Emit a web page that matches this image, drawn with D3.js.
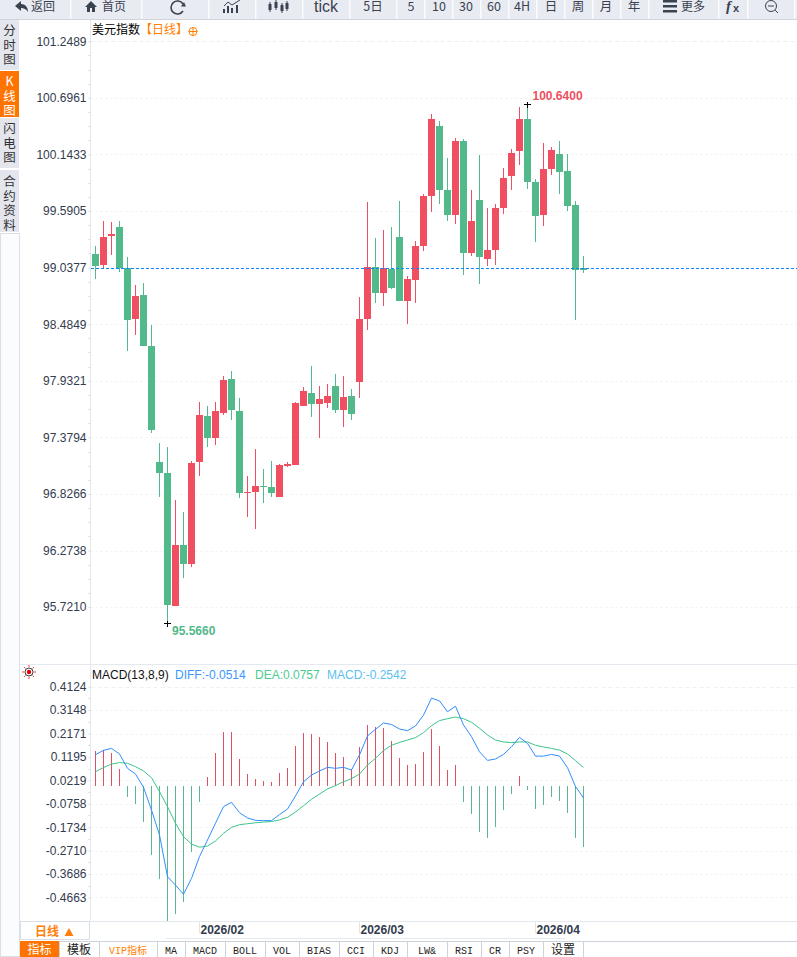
<!DOCTYPE html>
<html><head><meta charset="utf-8">
<script src="https://cdn.jsdelivr.net/npm/d3@7/dist/d3.min.js"></script>
<style>
html,body{margin:0;padding:0;background:#fff;overflow:hidden}
svg{display:block}
text{font-family:"Liberation Sans",Arial,"Noto Sans CJK SC",sans-serif}
.cjk{font-family:"Noto Sans CJK SC",sans-serif}
</style></head><body>
<svg id="c" width="797" height="957"></svg>
<script>
// Daily candles
const open  = [99.170,99.063,99.346,99.434,99.031,98.535,98.770,98.272,97.138,97.031,95.731,96.327,96.142,97.138,97.588,97.373,97.617,97.949,97.637,96.835,96.845,96.904,96.894,96.796,97.099,97.109,97.685,97.812,97.705,97.715,97.881,97.646,97.783,97.920,98.535,99.043,98.789,99.024,99.337,98.711,98.916,99.249,99.737,100.421,99.796,99.551,100.274,99.180,99.698,99.122,99.209,99.620,99.932,100.177,100.489,99.874,99.551,100.001,100.147,99.981,99.649,99.034];
const close = [99.053,99.337,99.366,99.031,98.526,98.760,98.272,97.451,97.031,95.741,96.327,96.142,97.128,97.597,97.373,97.637,97.939,97.646,96.835,96.845,96.904,96.894,96.835,97.109,97.119,97.715,97.832,97.705,97.754,97.783,97.646,97.773,97.607,98.535,99.043,98.789,99.034,98.838,98.711,98.926,99.249,99.737,100.489,99.796,99.551,100.274,99.180,99.493,99.141,99.209,99.620,99.913,100.157,100.489,99.874,99.542,100.001,100.186,99.972,99.639,99.014,99.014];
const high  = [99.249,99.493,99.483,99.493,99.141,98.868,98.887,98.477,97.324,97.285,96.767,96.650,97.148,97.724,97.685,97.724,97.978,98.027,97.764,97.001,97.265,97.070,97.148,97.119,97.138,97.724,97.871,98.076,97.881,97.900,97.998,97.978,97.851,98.750,99.678,99.327,99.405,99.434,99.688,98.955,99.297,99.757,100.538,100.470,100.108,100.304,100.294,99.796,100.138,99.620,99.659,100.011,100.196,100.607,100.640,99.903,100.255,100.216,100.274,100.147,99.688,99.151];
const low   = [98.926,99.034,99.161,98.995,98.223,98.379,98.272,97.422,96.796,95.566,95.731,96.005,96.112,97.001,97.285,97.304,97.597,97.549,96.787,96.601,96.484,96.738,96.796,96.796,97.089,97.109,97.685,97.578,97.373,97.666,97.617,97.480,97.549,97.764,98.428,98.692,98.662,98.828,98.711,98.487,98.692,99.200,99.581,99.659,99.493,99.464,98.965,99.151,98.877,99.053,99.063,99.561,99.796,100.040,99.805,99.288,99.444,99.942,99.757,99.591,98.526,98.985];
const lastPrice = 99.03;
const highLabel = "100.6400", lowLabel = "95.5660";
const priceTicks = [101.2489,100.6961,100.1433,99.5905,99.0377,98.4849,97.9321,97.3794,96.8266,96.2738,95.7210];
// MACD(13,8,9)
const macdBars = [0.144,0.147,0.136,0.069,-0.048,-0.077,-0.152,-0.289,-0.390,-0.565,-0.535,-0.485,-0.277,-0.068,0.036,0.136,0.224,0.224,0.111,0.048,0.028,0.019,0.015,0.053,0.073,0.165,0.219,0.215,0.203,0.182,0.136,0.119,0.069,0.161,0.253,0.244,0.240,0.186,0.115,0.086,0.090,0.140,0.236,0.165,0.065,0.086,-0.068,-0.118,-0.193,-0.219,-0.173,-0.102,-0.035,0.040,-0.018,-0.098,-0.081,-0.048,-0.064,-0.114,-0.219,-0.2542];
const diff = [0.129,0.147,0.155,0.132,0.072,0.048,-0.007,-0.102,-0.206,-0.380,-0.415,-0.453,-0.387,-0.296,-0.227,-0.157,-0.088,-0.070,-0.113,-0.135,-0.145,-0.146,-0.146,-0.121,-0.098,-0.043,0.016,0.044,0.061,0.076,0.072,0.076,0.065,0.128,0.207,0.235,0.261,0.255,0.236,0.229,0.249,0.294,0.365,0.353,0.308,0.331,0.253,0.204,0.141,0.105,0.111,0.130,0.162,0.201,0.176,0.123,0.123,0.130,0.123,0.075,-0.004,-0.0514];
const dea = [0.058,0.075,0.090,0.096,0.093,0.079,0.061,0.033,-0.025,-0.088,-0.157,-0.213,-0.244,-0.257,-0.252,-0.231,-0.199,-0.174,-0.163,-0.159,-0.155,-0.152,-0.150,-0.143,-0.132,-0.110,-0.084,-0.057,-0.035,-0.014,0.000,0.016,0.029,0.048,0.086,0.114,0.146,0.168,0.180,0.190,0.200,0.221,0.250,0.271,0.279,0.286,0.279,0.264,0.239,0.211,0.190,0.182,0.179,0.182,0.182,0.168,0.161,0.155,0.148,0.132,0.104,0.0757];
const macdTicks = [0.4124,0.3148,0.2171,0.1195,0.0219,-0.0758,-0.1734,-0.2710,-0.3686,-0.4663];
const monthLabels = ["2026/02","2026/03","2026/04"];
const monthIndex = [13,33,55];
// Interface labels
const toolLabels = ["tick","5日","5","10","30","60","4H","日","周","月","年"];
const sideTabs = ["分时图","K线图","闪电图","合约资料"];
const bottomTabs = ["指标","模板","VIP指标","MA","MACD","BOLL","VOL","BIAS","CCI","KDJ","LW&","RSI","CR","PSY","设置"];

const RED="#ef4f60", GREEN="#52b98a", BLUE="#0a84ff", TXT="#333b4e";
const svg=d3.select("#c");
const x=d3.scaleLinear().domain([0,open.length-1]).range([95.5,583.5]);
const y=d3.scaleLinear().domain([101.2489,95.7210]).range([41.3,607.1]);
const ym=d3.scaleLinear().domain([0.4124,-0.4663]).range([686.7,897.4]);
const PL=90.5, PR=797;

// side column
svg.append("rect").attr("x",0.5).attr("y",233.5).attr("width",19).attr("height",723).attr("fill","#fbfcfd").attr("stroke","#dbe0e8");
const sideY=[[20,71],[71,117],[118,169],[170,233]];
const sideG=svg.append("g");
sideTabs.forEach((t,i)=>{
  const on=i===1;
  sideG.append("rect").attr("x",0).attr("y",sideY[i][0]).attr("width",19).attr("height",sideY[i][1]-sideY[i][0]-(on?0:1)).attr("fill",on?"#ff7300":"#e4e6ee");
  Array.from(t).forEach((ch,j)=>{
    sideG.append("text").attr("class","cjk").attr("x",9.5).attr("y",sideY[i][0]+18+j*14.6-(t.length>3?2:3)).attr("text-anchor","middle")
      .attr("font-size",12.5).attr("fill",on?"#fff":"#333").text(ch);
  });
});

// frame lines
const frame=svg.append("g").attr("stroke","#e4e9ef").attr("stroke-width",1);
frame.append("line").attr("x1",PL).attr("x2",PL).attr("y1",20).attr("y2",921);
frame.append("line").attr("x1",19.5).attr("x2",19.5).attr("y1",233).attr("y2",957).attr("stroke","#dbe0e8");
frame.append("line").attr("x1",20).attr("x2",PR).attr("y1",664.5).attr("y2",664.5);
frame.append("line").attr("x1",20).attr("x2",PR).attr("y1",921.5).attr("y2",921.5);
frame.append("line").attr("x1",166).attr("x2",565).attr("y1",938.5).attr("y2",938.5);

// price grid + axis
const gridG=svg.append("g");
gridG.selectAll("line").data(priceTicks).join("line").attr("x1",PL).attr("x2",PR)
  .attr("y1",d=>Math.round(y(d))+.5).attr("y2",d=>Math.round(y(d))+.5)
  .attr("stroke",(d,i)=>i===0?"#eeeeee":"#f0f0f0").attr("stroke-dasharray",(d,i)=>i===0?"4,3":"2,3");
gridG.selectAll("line.m").data(macdTicks).join("line").attr("class","m").attr("x1",PL).attr("x2",PR)
  .attr("y1",d=>Math.round(ym(d))+.5).attr("y2",d=>Math.round(ym(d))+.5)
  .attr("stroke","#f0f0f0").attr("stroke-dasharray",(d,i)=>i===0?"4,3":"2,3");

function styleAxis(g){
  g.select(".domain").remove();
  g.selectAll(".tick line").attr("stroke","#d5dbe3");
  g.selectAll("text").attr("fill",TXT).attr("font-size",12).attr("font-family",'"Liberation Sans",Arial,sans-serif');
}
const priceFmt=new Map(priceTicks.map(v=>[v,v.toFixed(4)]));
svg.append("g").attr("transform",`translate(${PL},0)`)
  .call(d3.axisLeft(y).tickValues(priceTicks).tickSize(2).tickPadding(2).tickFormat(d=>priceFmt.get(d)))
  .call(styleAxis);
svg.append("g").attr("transform",`translate(${PL},0)`)
  .call(d3.axisLeft(ym).tickValues(macdTicks).tickSize(2).tickPadding(2).tickFormat(d=>d.toFixed(4)))
  .call(styleAxis);
// minor ticks
const minorP=d3.range(0,priceTicks.length-1).flatMap(i=>[1,2,3].map(k=>priceTicks[i]+(priceTicks[i+1]-priceTicks[i])*k/4));
svg.append("g").selectAll("line").data(minorP).join("line").attr("x1",PL-2).attr("x2",PL)
  .attr("y1",d=>Math.round(y(d))+.5).attr("y2",d=>Math.round(y(d))+.5).attr("stroke","#d5dbe3");
const minorM=d3.range(0,macdTicks.length-1).map(i=>(macdTicks[i]+macdTicks[i+1])/2);
svg.append("g").selectAll("line").data(minorM).join("line").attr("x1",PL-2).attr("x2",PL)
  .attr("y1",d=>Math.round(ym(d))+.5).attr("y2",d=>Math.round(ym(d))+.5).attr("stroke","#d5dbe3");

// candles
const idx=d3.range(open.length);
const col=i=>close[i]>open[i]||(close[i]===open[i]&&i<0)?RED:GREEN;
const cg=svg.append("g").attr("shape-rendering","crispEdges");
cg.selectAll("rect.w").data(idx).join("rect").attr("class","w")
  .attr("x",i=>Math.floor(x(i))).attr("width",1)
  .attr("y",i=>y(high[i])).attr("height",i=>y(low[i])-y(high[i])).attr("fill",col);
cg.selectAll("rect.b").data(idx).join("rect").attr("class","b")
  .attr("x",i=>Math.floor(x(i))-3).attr("width",7)
  .attr("y",i=>y(Math.max(open[i],close[i])))
  .attr("height",i=>Math.max(1,Math.abs(y(open[i])-y(close[i])))).attr("fill",col);

// last price line
svg.append("line").attr("x1",PL).attr("x2",PR).attr("y1",y(lastPrice)).attr("y2",y(lastPrice))
  .attr("stroke",BLUE).attr("stroke-dasharray","3,2").attr("shape-rendering","crispEdges");

// extreme labels
const hiI=d3.maxIndex(high), loI=d3.minIndex(low);
const cross=(cx,cy)=>{svg.append("path").attr("d",`M${cx-3.5},${cy}H${cx+3.5}M${cx},${cy-3}V${cy+3}`).attr("stroke","#000").attr("shape-rendering","crispEdges");};
cross(Math.floor(x(hiI))+.5,Math.round(y(high[hiI]))+.5);
cross(Math.floor(x(loI))+.5,Math.round(y(low[loI]))+.5);
svg.append("text").attr("x",x(hiI)+5).attr("y",y(high[hiI])-3.5).attr("font-size",12).attr("font-weight","bold").attr("fill",RED).text(highLabel);
svg.append("text").attr("x",x(loI)+4.5).attr("y",y(low[loI])+12).attr("font-size",12).attr("font-weight","bold").attr("fill",GREEN).text(lowLabel);

// title
const title=svg.append("text").attr("x",92).attr("y",34).attr("font-size",12).attr("class","cjk");
title.append("tspan").attr("fill","#000").text("美元指数");
title.append("tspan").attr("fill","#ff8000").text("【日线】");
const ic=svg.append("g").attr("stroke","#ff8000").attr("fill","none");
ic.append("circle").attr("cx",193).attr("cy",31.5).attr("r",4);
ic.append("path").attr("d","M188.5,31.5H197.5M193,27V36");

// MACD histogram + lines
const hg=svg.append("g").attr("shape-rendering","crispEdges");
hg.selectAll("line").data(macdBars).join("line")
  .attr("x1",(d,i)=>Math.floor(x(i))+.5).attr("x2",(d,i)=>Math.floor(x(i))+.5)
  .attr("y1",ym(0)).attr("y2",d=>ym(d)).attr("stroke",d=>d>=0?"#e0515f":"#5fb58d");
const ln=d3.line().x((d,i)=>x(i)).y(d=>ym(d));
svg.append("path").datum(dea).attr("d",ln).attr("fill","none").attr("stroke","#3cc48a");
svg.append("path").datum(diff).attr("d",ln).attr("fill","none").attr("stroke","#2e8fff");

// MACD legend
const legendX=[92,175,255,327], legendT=["MACD(13,8,9)","DIFF:"+diff[diff.length-1].toFixed(4),"DEA:"+dea[dea.length-1].toFixed(4),"MACD:"+macdBars[macdBars.length-1].toFixed(4)], legendC=["#111","#3b97ff","#4ccb8f","#5cc0f0"];
legendT.forEach((t,i)=>svg.append("text").attr("x",legendX[i]).attr("y",679).attr("font-size",12).attr("fill",legendC[i]).text(t));

// indicator sun icon
const sun=svg.append("g").attr("transform","translate(29,672)");
sun.append("circle").attr("r",2.2).attr("fill","#e00");
sun.append("circle").attr("r",4).attr("fill","none").attr("stroke","#111").attr("stroke-width",.8);
d3.range(8).forEach(k=>{const a=k*Math.PI/4;sun.append("line").attr("x1",5*Math.cos(a)).attr("y1",5*Math.sin(a)).attr("x2",7*Math.cos(a)).attr("y2",7*Math.sin(a)).attr("stroke","#e00").attr("stroke-width",.8);});

// x axis
const xg=svg.append("g");
monthLabels.forEach((m,k)=>{
  const tx=Math.floor(x(monthIndex[k]))+.5;
  xg.append("line").attr("x1",tx).attr("x2",tx).attr("y1",922).attr("y2",933).attr("stroke","#dfe4ea");
  xg.append("text").attr("x",tx+1).attr("y",934).attr("font-size",12).attr("font-weight","bold").attr("fill",TXT).text(m);
});

// period box
svg.append("rect").attr("x",20.5).attr("y",921.5).attr("width",69).attr("height",18).attr("fill","#fff").attr("stroke","#dbe0e8");
svg.append("text").attr("class","cjk").attr("x",35).attr("y",935.5).attr("font-size",12).attr("font-weight","bold").attr("fill","#ff7f0e").text("日线");
svg.append("path").attr("d","M64.5,936L69,928L73.5,936Z").attr("fill","#ff7f0e");

// bottom tabs
const tabEdges=[20,59,99,157,185,225,265,299,339,373,407,447,481,509,543,583];
const tg=svg.append("g");
tg.append("line").attr("x1",20).attr("x2",PR).attr("y1",941.5).attr("y2",941.5).attr("stroke","#cdd3dc");
bottomTabs.forEach((t,i)=>{
  const a=tabEdges[i],b=tabEdges[i+1];
  if(i===0) tg.append("rect").attr("x",a).attr("y",941).attr("width",b-a).attr("height",16).attr("fill","#ff7300");
  tg.append("line").attr("x1",b+.5).attr("x2",b+.5).attr("y1",942).attr("y2",957).attr("stroke","#cdd3dc");
  const latin=/^[A-Z&]+$/.test(t);
  tg.append("text").attr("x",(a+b)/2).attr("y",953.5).attr("text-anchor","middle")
    .attr("style",latin||t.startsWith("VIP")?'font-family:"Liberation Mono","Noto Sans CJK SC",monospace':'font-family:"Noto Sans CJK SC",sans-serif')
    .attr("font-size",latin||t.startsWith("VIP")?10:12)
    .attr("fill",i===0?"#fff":(i===2?"#ff8000":"#222")).text(t);
});

// toolbar
const tb=svg.append("g");
tb.append("rect").attr("width",797).attr("height",19).attr("fill","#e9ebf2");
tb.append("line").attr("x1",0).attr("x2",797).attr("y1",19.5).attr("y2",19.5).attr("stroke","#cfd3de");
const seps=[71,142,209,256,303,350,397,425,453,481,509,537,565,593,621,649,719,748,795];
seps.forEach(s=>tb.append("rect").attr("x",s-1).attr("y",0).attr("width",1.5).attr("height",19).attr("fill","#fff").attr("opacity",.85));
const toolX=[326,373,411,439,466,494,522,551,578,606,634];
const IC="#3a4250";
toolLabels.forEach((t,i)=>tb.append("text").attr("class",i===0?null:"cjk").attr("x",toolX[i]).attr("y",i===0?12:11).attr("text-anchor","middle")
  .attr("font-size",i===0?16:12.5).attr("fill",IC).text(t));
[["返回",31],["首页",102]].forEach(([t,px])=>tb.append("text").attr("class","cjk").attr("x",px).attr("y",11).attr("font-size",12).attr("fill",IC).text(t));
tb.append("text").attr("class","cjk").attr("x",681).attr("y",11).attr("font-size",12).attr("fill",IC).text("更多");
// icons
tb.append("path").attr("fill",IC).attr("d","M15,6L21,1V4C26,4 28,8 28,12C26,9 24,8 21,8V11Z");
tb.append("path").attr("fill",IC).attr("d","M85,7L91,1L97,7H95V12H92V8H90V12H87V7Z");
tb.append("path").attr("fill","none").attr("stroke",IC).attr("stroke-width",1.6).attr("d","M183,4A6.5,6.5 0 1 0 183,11");
tb.append("path").attr("fill",IC).attr("d","M181,6.5L186,6.5L184,2Z");
tb.append("path").attr("fill",IC).attr("d","M223,9h2v4h-2zM227,6h2v7h-2zM231,8h2v5h-2zM236,5h2v8h-2z");
tb.append("path").attr("fill","none").attr("stroke",IC).attr("d","M224,6L228,2L232,5L240,0");
[[270,7],[276,5],[282,8],[287,6]].forEach(([cx,cy])=>{
  tb.append("rect").attr("x",cx-1.5).attr("y",cy-3).attr("width",3).attr("height",6).attr("fill",IC);
  tb.append("line").attr("x1",cx).attr("x2",cx).attr("y1",cy-5).attr("y2",cy+5).attr("stroke",IC);
});
tb.append("path").attr("fill",IC).attr("d","M663,0h14v2.5h-14zM663,5h14v2.5h-14zM663,10h14v2.5h-14z");
tb.append("text").attr("x",726).attr("y",11).attr("font-size",15).attr("font-weight","bold").attr("font-style","italic").attr("style",'font-family:"Liberation Serif",serif').attr("fill",IC).text("f");
tb.append("text").attr("x",733).attr("y",12).attr("font-size",11).attr("font-weight","bold").attr("fill",IC).text("x");
tb.append("circle").attr("cx",771).attr("cy",6).attr("r",5.5).attr("fill","none").attr("stroke",IC);
tb.append("path").attr("fill","none").attr("stroke",IC).attr("d","M768,6H774M775,10L778,13");
</script>
</body></html>
